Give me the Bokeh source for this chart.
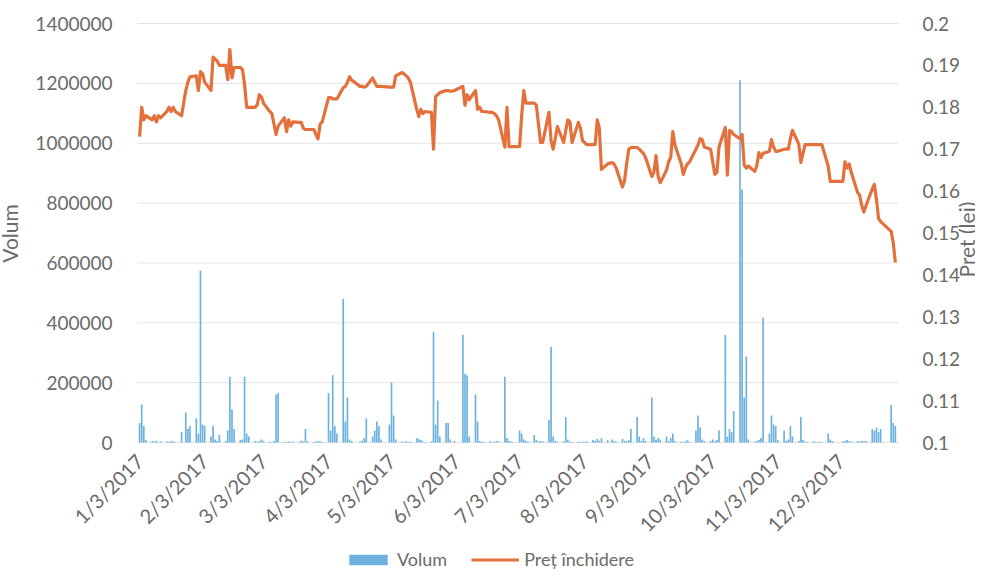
import math
from datetime import datetime, timedelta
from bokeh.plotting import figure
from bokeh.models import (ColumnDataSource, Range1d, LinearAxis, FixedTicker,
                          CustomJSTickFormatter, Legend, LegendItem, BasicTickFormatter)
from bokeh.embed import file_html
from bokeh.resources import INLINE

# ---------------- data ----------------
# trading days of 2017, month by month (day of month)
jan_days = [3,4,5,6,9,10,11,12,13,16,17,18,19,20,23,25,26,27,30,31]
feb_days = [1,2,3,6,7,8,9,10,13,14,15,16,17,20,21,22,23,24,27,28]
mar_days = [1,2,3,6,7,8,9,10,13,14,15,16,17,20,21,22,23,24,27,28,29,30,31]
apr_days = [3,4,5,6,7,10,11,12,13,14,18,19,20,21,24,25,26,27,28]
may_days = [2,3,4,5,8,9,10,11,12,15,16,17,18,19,22,23,24,25,26,29,30,31]
jun_days = [2,6,7,8,9,12,13,14,15,16,19,20,21,22,23,26,27,28,29,30]
jul_days = [3,4,5,6,7,10,11,12,13,14,17,18,19,20,21,24,25,26,27,28,31]
aug_days = [1,2,3,4,7,8,9,10,11,14,16,17,18,21,22,23,24,25,28,29,30,31]
sep_days = [1,4,5,6,7,8,11,12,13,14,15,18,19,20,21,22,25,26,27,28,29]
oct_days = [2,3,4,5,6,9,10,11,12,13,16,17,18,19,20,23,24,25,26,27,30,31]
nov_days = [1,2,3,6,7,8,9,10,13,14,15,16,17,20,21,22,23,24,27,28,29]
dec_days = [4,5,6,7,8,11,12,13,14,15,18,19,20,21,22,27,28,29]
month_days = [jan_days, feb_days, mar_days, apr_days, may_days, jun_days,
              jul_days, aug_days, sep_days, oct_days, nov_days, dec_days]

# closing price (lei)
pret = [
    # Jan
    0.173,0.180,0.177,0.178,0.177,0.178,0.1765,0.178,0.1775,0.179,0.180,0.179,0.180,0.179,0.178,0.184,0.186,0.1873,0.1875,0.184,
    # Feb
    0.1885,0.188,0.186,0.184,0.192,0.1915,0.191,0.190,0.190,0.1866,0.1938,0.187,0.1895,0.1895,0.189,0.1855,0.180,0.180,0.180,0.1805,
    # Mar
    0.183,0.1825,0.181,0.179,0.1785,0.176,0.1735,0.1755,0.1775,0.1742,0.177,0.1755,0.1765,0.1764,0.1764,0.175,0.1747,0.1747,0.1747,0.1735,0.1725,0.176,0.1765,
    # Apr
    0.1823,0.1823,0.182,0.182,0.182,0.1847,0.185,0.186,0.1873,0.1865,0.185,0.185,0.1848,0.185,0.187,0.186,0.185,0.185,0.185,
    # May
    0.1848,0.1848,0.1848,0.1875,0.1883,0.188,0.1875,0.187,0.186,0.1795,0.1778,0.1795,0.1785,0.179,0.1788,0.170,0.1826,0.183,0.1835,0.184,0.184,0.1838,
    # Jun
    0.184,0.185,0.1805,0.183,0.1818,0.184,0.1795,0.180,0.179,0.179,0.1788,0.1788,0.1785,0.178,0.177,0.1705,0.180,0.1706,0.1706,0.1706,
    # Jul
    0.1706,0.178,0.184,0.181,0.181,0.181,0.1805,0.176,0.1716,0.1716,0.1788,0.172,0.170,0.1725,0.1754,0.1716,0.1745,0.177,0.1765,0.1716,0.1764,
    # Aug
    0.175,0.172,0.1716,0.1711,0.1711,0.1711,0.177,0.175,0.1652,0.1665,0.1668,0.1665,0.1655,0.161,0.1625,0.1665,0.170,0.1704,0.1704,0.170,0.1695,0.169,
    # Sep
    0.168,0.1635,0.1645,0.1685,0.1635,0.162,0.165,0.167,0.168,0.1742,0.171,0.1665,0.164,0.1655,0.1665,0.167,0.170,0.171,0.1725,0.1723,0.1705,
    # Oct
    0.170,0.167,0.164,0.1645,0.1705,0.1752,0.1638,0.1745,0.1742,0.1735,0.1725,0.1735,0.1662,0.1655,0.166,0.1647,0.166,0.1692,0.168,0.169,0.1695,0.1723,
    # Nov
    0.1705,0.1695,0.1695,0.170,0.170,0.170,0.1725,0.1745,0.1712,0.1668,0.169,0.1711,0.1711,0.1711,0.1711,0.1711,0.1711,0.1711,0.166,0.1623,0.1623,
    # Dec
    0.1623,0.167,0.1655,0.1665,0.1645,0.1597,0.159,0.1565,0.155,0.1565,0.1605,0.1616,0.158,0.1535,0.1527,0.1504,0.1477,0.143,
]

# traded volume
volum = [
    # Jan
    65000,127000,55000,8000,5000,3000,6000,2000,4000,3000,2000,5000,3000,2000,35000,100000,45000,55000,80000,30000,
    # Feb
    575000,60000,55000,20000,55000,10000,5000,25000,5000,40000,220000,110000,45000,8000,10000,220000,30000,20000,5000,3000,
    # Mar
    4000,10000,6000,3000,2000,5000,160000,165000,3000,2000,4000,2000,3000,2000,6000,3000,45000,4000,2000,3000,5000,3000,2000,
    # Apr
    165000,40000,225000,55000,30000,480000,70000,150000,10000,5000,3000,6000,15000,80000,20000,40000,70000,55000,10000,
    # May
    60000,200000,90000,10000,3000,2000,4000,2000,3000,15000,12000,8000,3000,2000,4000,370000,60000,140000,20000,65000,65000,10000,
    # Jun
    5000,360000,230000,225000,20000,160000,70000,5000,3000,2000,4000,2000,3000,5000,3000,220000,15000,5000,3000,2000,
    # Jul
    40000,30000,10000,5000,3000,25000,8000,3000,5000,4000,75000,320000,20000,5000,3000,4000,85000,10000,3000,2000,3000,
    # Aug
    2000,3000,2000,4000,8000,5000,12000,6000,15000,8000,10000,5000,3000,12000,6000,4000,8000,45000,85000,20000,5000,15000,
    # Sep
    5000,150000,20000,8000,15000,10000,20000,5000,15000,30000,5000,3000,2000,4000,8000,3000,40000,90000,50000,10000,5000,
    # Oct
    5000,10000,4000,8000,40000,360000,20000,45000,35000,105000,1210000,845000,150000,287000,10000,3000,5000,8000,15000,417000,30000,90000,
    # Nov
    60000,55000,8000,40000,5000,10000,55000,20000,5000,85000,8000,3000,2000,4000,3000,2000,3000,2000,30000,10000,5000,
    # Dec
    3000,5000,8000,4000,3000,5000,3000,6000,4000,5000,45000,40000,50000,35000,45000,125000,65000,55000,
]

tick_dates = ["2017-01-03","2017-02-03","2017-03-03","2017-04-03","2017-05-03","2017-06-03",
              "2017-07-03","2017-08-03","2017-09-03","2017-10-03","2017-11-03","2017-12-03"]
vol_ticks = [0, 200000, 400000, 600000, 800000, 1000000, 1200000, 1400000]
price_ticks = [0.10, 0.11, 0.12, 0.13, 0.14, 0.15, 0.16, 0.17, 0.18, 0.19, 0.20]
VOL_MAX, PRICE_MIN, PRICE_MAX = 1400000, 0.1, 0.2

# ---------------- layout (pixels) ----------------
CANVAS_W, CANVAS_H = 975, 571
LEFT_PX, PLOT_W = 137, 761      # value area spans LEFT_PX .. LEFT_PX+PLOT_W
TOP_PX, PLOT_H = 23, 419        # value area spans TOP_PX .. TOP_PX+PLOT_H
RIGHT_PX = CANVAS_W - LEFT_PX - PLOT_W
BOTTOM_PX = CANVAS_H - TOP_PX - PLOT_H

x_start = datetime(2017, 1, 2)
x_end = datetime(2017, 12, 30, 12)
px_per_day = PLOT_W / ((x_end - x_start).total_seconds() / 86400)
x_lo = x_start - timedelta(days=LEFT_PX / px_per_day)
x_hi = x_end + timedelta(days=RIGHT_PX / px_per_day)

def to_ms(dt):
    return (dt - datetime(1970, 1, 1)).total_seconds() * 1000

# ---------------- build ----------------
dates = []
for m, days in enumerate(month_days):
    for d in days:
        dates.append(datetime(2017, m + 1, d))

src = ColumnDataSource(dict(date=dates, pret=pret, volum=volum))
grid_src = ColumnDataSource(dict(y=vol_ticks, x0=[x_start] * len(vol_ticks),
                                 x1=[x_end] * len(vol_ticks)))

TEXT = "#6b6b6b"
FONT = "Lato"
DAY_MS = 86400000

p = figure(x_axis_type="datetime", output_backend="svg", toolbar_location=None,
           frame_width=CANVAS_W, frame_height=CANVAS_H,
           x_range=Range1d(x_lo, x_hi),
           y_range=Range1d(-VOL_MAX * BOTTOM_PX / PLOT_H, VOL_MAX * (1 + TOP_PX / PLOT_H)))
p.title.visible = False
p.min_border_left = 0
p.min_border_right = 0
p.min_border_top = 0
p.min_border_bottom = 0
p.outline_line_color = None
p.background_fill_color = "white"
p.border_fill_color = "white"

p.extra_y_ranges = {"pret": Range1d(PRICE_MIN - (PRICE_MAX - PRICE_MIN) * BOTTOM_PX / PLOT_H,
                                    PRICE_MAX + (PRICE_MAX - PRICE_MIN) * TOP_PX / PLOT_H)}

# horizontal grid lines, only across the value area
p.xgrid.grid_line_color = None
p.ygrid.grid_line_color = None
p.segment(x0="x0", x1="x1", y0="y", y1="y", source=grid_src,
          line_color="#e3e3e3", line_width=1)

bars = p.vbar(x="date", top="volum", width=0.8 * DAY_MS, source=src,
              fill_color="#6db2de", line_color=None)
line = p.line(x="date", y="pret", source=src, y_range_name="pret",
              line_color="#e4703c", line_width=3.2, line_join="round")

def style_axis(ax, label_size="19px"):
    ax.axis_line_color = None
    ax.major_tick_line_color = None
    ax.minor_tick_line_color = None
    ax.major_label_text_color = TEXT
    ax.major_label_text_font = FONT
    ax.major_label_text_font_size = label_size
    ax.axis_label_text_color = TEXT
    ax.axis_label_text_font = FONT
    ax.axis_label_text_font_size = "21px"
    ax.axis_label_text_font_style = "normal"

# left axis, drawn at the left edge of the value area
yl = p.yaxis[0]
style_axis(yl)
yl.fixed_location = to_ms(x_start)
yl.ticker = FixedTicker(ticks=vol_ticks)
yl.formatter = BasicTickFormatter(use_scientific=False)
yl.axis_label = "\u2003" * 6 + "\u2002" + "Volum"
yl.major_label_standoff = 19
yl.axis_label_standoff = 10

# right axis, drawn at the right edge of the value area (title read bottom-to-top)
yr = LinearAxis(y_range_name="pret",
                axis_label="\u2003" * 18 + "\u2002" + "Preț (lei)")
style_axis(yr)
yr.fixed_location = to_ms(x_end)
yr.ticker = FixedTicker(ticks=price_ticks)
yr.formatter = CustomJSTickFormatter(code="return String(Math.round(tick*100)/100);")
yr.major_label_standoff = 18
yr.axis_label_standoff = 3
yr.axis_label_orientation = math.pi / 2
yr.axis_label_align = "start"
p.add_layout(yr, "right")

# date axis, drawn along the zero line
xa = p.xaxis[0]
style_axis(xa, "20px")
xa.fixed_location = 0
xa.ticker = FixedTicker(ticks=[to_ms(datetime.strptime(t, "%Y-%m-%d")) for t in tick_dates])
xa.formatter = CustomJSTickFormatter(code="""
const d = new Date(tick);
return (d.getUTCMonth()+1) + '/' + d.getUTCDate() + '/' + d.getUTCFullYear();
""")
xa.major_label_orientation = math.pi / 4
xa.major_label_standoff = 9

# legend at the bottom
legend = Legend(items=[LegendItem(label="Volum", renderers=[bars]),
                       LegendItem(label="Preț închidere", renderers=[line])],
                orientation="horizontal", location=(344, 1),
                glyph_width=48, glyph_height=13, label_standoff=5, spacing=24,
                padding=0, margin=0, border_line_color=None,
                background_fill_alpha=0,
                label_text_font=FONT, label_text_font_size="18px",
                label_text_color=TEXT)
p.add_layout(legend, "center")

open("out.html", "w").write(file_html(p, INLINE))
